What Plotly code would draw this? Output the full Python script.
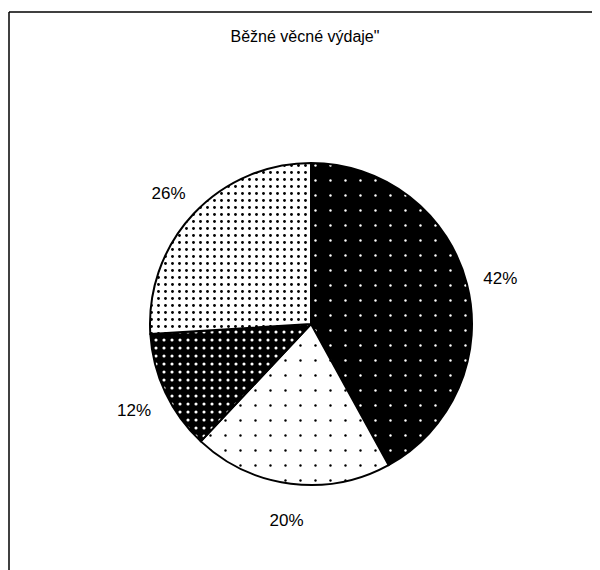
import plotly.graph_objects as go

title_text = "Běžné věcné výdaje\""
labels = ["A", "B", "C", "D"]
values = [42, 20, 12, 26]
bg_colors = ["black", "white", "black", "white"]
fg_colors = ["white", "black", "white", "black"]
dot_sizes = [15, 15, 8, 7]
dot_solidity = [0.02, 0.02, 0.12, 0.13]

W, H = 592, 562
cx, cy, r = 303, 316, 161
cy_lab, r_lab = 319, 226

fig = go.Figure()
fig.add_trace(go.Pie(
    labels=labels, values=values, sort=False, direction="clockwise", rotation=0,
    textinfo="none", hoverinfo="label+percent", showlegend=False,
    domain=dict(x=[(cx - r) / W, (cx + r) / W], y=[1 - (cy + r) / H, 1 - (cy - r) / H]),
    marker=dict(
        colors=bg_colors,
        line=dict(color="black", width=2),
        pattern=dict(shape=".", bgcolor=bg_colors, fgcolor=fg_colors,
                     size=dot_sizes, solidity=dot_solidity, fillmode="replace"),
    ),
))
# transparent ring carrying the percentage labels
fig.add_trace(go.Pie(
    labels=labels, values=values, sort=False, direction="clockwise", rotation=0,
    hole=(r + 4) / r_lab, showlegend=False, hoverinfo="skip",
    domain=dict(x=[(cx - r_lab) / W, (cx + r_lab) / W],
                y=[1 - (cy_lab + r_lab) / H, 1 - (cy_lab - r_lab) / H]),
    marker=dict(colors=["rgba(0,0,0,0)"] * 4, line=dict(width=0)),
    texttemplate="%{percent:.0%}", textposition="inside", insidetextorientation="horizontal",
    textfont=dict(family="Liberation Sans, Arial, sans-serif", size=17, color="black"),
))

frame_x = 1 / W
frame_y = 1 - 4 / H
fig.update_layout(
    width=W, height=H,
    margin=dict(l=0, r=0, t=0, b=0),
    paper_bgcolor="white", plot_bgcolor="white",
    title=dict(text=title_text, x=(cx - 6) / W, xanchor="center", xref="container",
               y=1 - 28 / H, yanchor="middle", yref="container",
               font=dict(family="Liberation Sans, Arial, sans-serif", size=16, color="black")),
    shapes=[
        dict(type="line", xref="paper", yref="paper", x0=frame_x, x1=frame_x, y0=-0.1, y1=frame_y,
             line=dict(color="black", width=1.5)),
        dict(type="line", xref="paper", yref="paper", x0=frame_x, x1=1.1, y0=frame_y, y1=frame_y,
             line=dict(color="black", width=1.5)),
    ],
)

fig.write_html("out.html")
